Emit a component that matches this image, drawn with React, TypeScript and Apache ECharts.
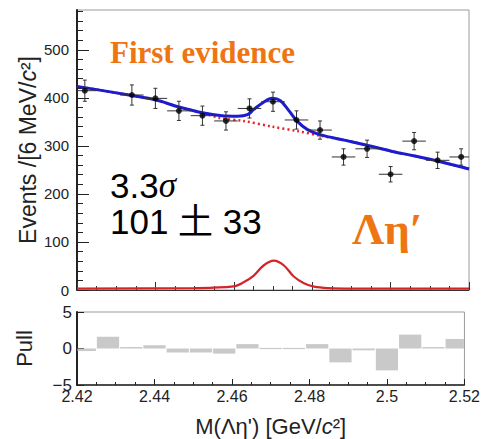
import React, { useEffect, useRef } from "react";
import * as echarts from "echarts";

// ---- data ----
const massCenters = [2.422, 2.434, 2.44, 2.446, 2.452, 2.458, 2.464, 2.47, 2.476, 2.482, 2.488, 2.494, 2.5, 2.506, 2.512, 2.518];
const events = [415, 406, 399, 373, 363, 352, 378, 392, 354, 333, 277, 294, 241, 310, 270, 277];
const eventErrors = [22, 21, 21, 20, 20, 19, 20, 20, 19, 19, 17, 18, 16, 18, 17, 17];

const pullCenters = [2.422, 2.428, 2.434, 2.44, 2.446, 2.452, 2.458, 2.464, 2.47, 2.476, 2.482, 2.488, 2.494, 2.5, 2.506, 2.512, 2.518];
const pullValues = [-0.35, 1.6, 0.2, 0.45, -0.55, -0.55, -0.7, 0.6, 0.05, 0.05, 0.6, -1.9, -0.25, -3.0, 1.9, 0.2, 1.3];

const fitX = [2.42, 2.434, 2.44, 2.446, 2.452, 2.457, 2.461, 2.4635, 2.4651, 2.4676, 2.4698, 2.4719, 2.4741, 2.4762, 2.4788, 2.4822, 2.4882, 2.4942, 2.5002, 2.5062, 2.5122, 2.52];
const fitY = [424, 405, 396, 381, 369, 363, 362, 365, 376, 391, 399, 394, 373, 351, 334, 323, 312, 301, 289, 279, 268, 252];

const bkgX = [2.42, 2.434, 2.44, 2.446, 2.452, 2.4565, 2.4625, 2.4698, 2.4762, 2.4822, 2.4882, 2.4942, 2.5002, 2.5062, 2.5122, 2.52];
const bkgY = [424, 405, 396, 381, 369, 358, 352, 340, 331, 321, 312, 301, 289, 279, 268, 252];

const sigX = [2.42, 2.45, 2.4599, 2.4625, 2.4651, 2.4676, 2.4702, 2.4728, 2.4753, 2.4779, 2.4805, 2.484, 2.49, 2.52];
const sigY = [3, 4, 7.5, 16, 30, 51, 61, 51, 28, 14, 7, 4, 3, 3];

const yMajorTicks = [0, 100, 200, 300, 400, 500];
const yMinorTicks = [0, 20, 40, 60, 80, 100, 120, 140, 160, 180, 200, 220, 240, 260, 280, 300, 320, 340, 360, 380, 400, 420, 440, 460, 480, 500, 520, 540, 560, 580];
const xTickLabels = [2.42, 2.44, 2.46, 2.48, 2.5, 2.52];
const pullTicks = [-5, 0, 5];

const BIN_HALF = 0.003;
const X_MIN = 2.42;
const X_MAX = 2.52;
const Y_MAX = 583;

const ORANGE = "#EE7512";
const SANS = '"Liberation Sans", Arial, Helvetica, sans-serif';
const SERIF = '"Liberation Serif", "Times New Roman", serif';

export default function App() {
  const ref = useRef<HTMLDivElement>(null);

  useEffect(() => {
    if (!ref.current) return;
    const chart = echarts.init(ref.current, undefined, { renderer: "svg" });

    const zip = (xs: number[], ys: number[]) => xs.map((x, i) => [x, ys[i]]);

    const option: any = {
      animation: false,
      backgroundColor: "#ffffff",
      grid: [
        { left: 77, top: 10, width: 392, height: 280, show: true, borderColor: "#9a9a9a", borderWidth: 1 },
        { left: 77, top: 312, width: 392, height: 73, show: true, borderColor: "#9a9a9a", borderWidth: 1 },
      ],
      xAxis: [
        {
          type: "value", gridIndex: 0, min: X_MIN, max: X_MAX, interval: 0.02,
          axisLine: { show: true, onZero: false, lineStyle: { color: "#333", width: 1 } },
          axisTick: { show: true, inside: true, length: 8, lineStyle: { color: "#333" } },
          minorTick: { show: true, splitNumber: 4, length: 4, lineStyle: { color: "#333" } },
          axisLabel: { show: false },
          splitLine: { show: false },
        },
        {
          type: "value", gridIndex: 1, min: X_MIN, max: X_MAX, interval: 0.02,
          axisLine: { show: true, onZero: false, lineStyle: { color: "#222", width: 1.5 } },
          axisTick: { show: true, inside: true, length: 6, lineStyle: { color: "#222" } },
          minorTick: { show: true, splitNumber: 4, length: 3, lineStyle: { color: "#222" } },
          axisLabel: { show: true, customValues: xTickLabels, fontSize: 16, color: "#222", fontFamily: SANS, margin: 3 },
          splitLine: { show: false },
          name: "{a|M(Λη') [GeV/}{i|c}{a|²]}",
          nameLocation: "middle",
          nameGap: 30,
          nameMoveOverlap: false,
          nameTextStyle: {
            rich: {
              a: { fontSize: 22, fontFamily: SANS, color: "#222" },
              i: { fontSize: 22, fontFamily: SANS, fontStyle: "italic", color: "#222" },
            },
          },
        },
      ],
      yAxis: [
        {
          type: "value", gridIndex: 0, min: 0, max: Y_MAX, position: "left",
          axisLine: { show: true, lineStyle: { color: "#222", width: 2 } },
          axisTick: { show: true, inside: true, length: 12, customValues: yMajorTicks, lineStyle: { color: "#222" } },
          axisLabel: { show: true, customValues: yMajorTicks, fontSize: 15, color: "#222", fontFamily: SANS, margin: 8 },
          splitLine: { show: false },
          name: "{a|Events /[6 MeV/}{i|c}{a|²]}",
          nameLocation: "middle",
          nameGap: 38,
          nameMoveOverlap: false,
          nameTextStyle: {
            rich: {
              a: { fontSize: 23, fontFamily: SANS, color: "#222" },
              i: { fontSize: 23, fontFamily: SANS, fontStyle: "italic", color: "#222" },
            },
          },
        },
        {
          type: "value", gridIndex: 0, min: 0, max: Y_MAX, position: "left",
          axisLine: { show: false },
          axisTick: { show: true, inside: true, length: 6, customValues: yMinorTicks, lineStyle: { color: "#222" } },
          axisLabel: { show: false },
          splitLine: { show: false },
        },
        {
          type: "value", gridIndex: 1, min: -5, max: 5, interval: 5, position: "left",
          axisLine: { show: true, onZero: false, lineStyle: { color: "#222", width: 2 } },
          axisTick: { show: true, inside: true, length: 7, customValues: pullTicks, lineStyle: { color: "#222" } },
          axisLabel: {
            show: true, customValues: pullTicks, fontSize: 17, color: "#222", fontFamily: SANS, margin: 5,
            formatter: (v: number) => String(v).replace("-", "−"),
          },
          splitLine: { show: false },
          name: "Pull",
          nameLocation: "middle",
          nameGap: 42,
          nameMoveOverlap: false,
          nameTextStyle: { fontSize: 22, fontFamily: SANS, color: "#222" },
        },
      ],
      series: [
        {
          type: "line", xAxisIndex: 0, yAxisIndex: 0, data: zip(bkgX, bkgY), smooth: 0.3,
          showSymbol: false, lineStyle: { color: "#e3262b", width: 2.5, type: [2, 3] }, z: 2,
        },
        {
          type: "line", xAxisIndex: 0, yAxisIndex: 0, data: zip(sigX, sigY), smooth: 0.35,
          showSymbol: false, lineStyle: { color: "#d42428", width: 2.2 }, z: 2,
        },
        {
          type: "line", xAxisIndex: 0, yAxisIndex: 0, data: zip(fitX, fitY), smooth: 0.35,
          showSymbol: false, lineStyle: { color: "#1b1bd0", width: 3 }, z: 3,
        },
        {
          type: "custom", xAxisIndex: 0, yAxisIndex: 0, z: 4,
          data: massCenters.map((x, i) => [x, events[i], eventErrors[i]]),
          encode: { x: 0, y: 1 },
          renderItem: (params: any, api: any) => {
            const x = api.value(0), y = api.value(1), e = api.value(2);
            const cs = params.coordSys;
            const clampX = (px: number) => Math.max(cs.x, Math.min(cs.x + cs.width, px));
            const c = api.coord([x, y]);
            const top = api.coord([x, y + e]);
            const bot = api.coord([x, y - e]);
            const l = clampX(api.coord([x - BIN_HALF, y])[0]);
            const r = clampX(api.coord([x + BIN_HALF, y])[0]);
            const style = { stroke: "#333", lineWidth: 1 };
            return {
              type: "group",
              children: [
                { type: "line", shape: { x1: c[0], y1: top[1], x2: c[0], y2: bot[1] }, style },
                { type: "line", shape: { x1: l, y1: c[1], x2: r, y2: c[1] }, style },
                { type: "line", shape: { x1: c[0] - 2, y1: top[1], x2: c[0] + 2, y2: top[1] }, style },
                { type: "line", shape: { x1: c[0] - 2, y1: bot[1], x2: c[0] + 2, y2: bot[1] }, style },
              ],
            };
          },
        },
        {
          type: "scatter", xAxisIndex: 0, yAxisIndex: 0, z: 5,
          data: zip(massCenters, events), symbol: "circle", symbolSize: 6,
          itemStyle: { color: "#000" },
        },
        {
          type: "custom", xAxisIndex: 1, yAxisIndex: 2, z: 2,
          data: pullCenters.map((x, i) => [x, pullValues[i]]),
          encode: { x: 0, y: 1 },
          renderItem: (params: any, api: any) => {
            const x = api.value(0), v = api.value(1);
            const cs = params.coordSys;
            const clampX = (px: number) => Math.max(cs.x, Math.min(cs.x + cs.width, px));
            const p0 = api.coord([x - BIN_HALF, 0]);
            const p1 = api.coord([x + BIN_HALF, v]);
            const x0 = clampX(p0[0]) + 0.5;
            const x1 = clampX(p1[0]) - 0.5;
            const h = Math.abs(p1[1] - p0[1]);
            const y0 = Math.min(p0[1], p1[1]);
            const hh = Math.max(h, 1.2);
            return {
              type: "rect",
              shape: { x: x0, y: h < 1.2 ? p0[1] - 0.6 : y0, width: x1 - x0, height: hh },
              style: { fill: "#c9c9c9" },
            };
          },
        },
      ],
      graphic: [
        {
          type: "text", x: 110, y: 52.5, z: 10,
          style: { text: "First evidence", font: `bold 31px ${SERIF}`, fill: ORANGE, verticalAlign: "middle" },
        },
        {
          type: "text", x: 110, y: 185, z: 10,
          style: {
            text: "{a|3.3}{s|σ}",
            verticalAlign: "middle",
            rich: {
              a: { fontSize: 35, fontFamily: SANS, fill: "#000" },
              s: { fontSize: 35, fontFamily: SERIF, fontStyle: "italic", fill: "#000" },
            },
          },
        },
        {
          type: "text", x: 110, y: 221, z: 10,
          style: {
            text: "101 土 33",
            font: `35px "Liberation Sans", Arial, "Noto Sans CJK SC", sans-serif`,
            fill: "#000",
            verticalAlign: "middle",
          },
        },
        {
          type: "text", x: 352, y: 229, z: 10,
          style: { text: "Λη′", font: `bold 45px ${SERIF}`, fill: ORANGE, verticalAlign: "middle" },
        },
      ],
    };

    chart.setOption(option);
    return () => chart.dispose();
  }, []);

  return (
    <div
      ref={ref}
      style={{ position: "fixed", left: 0, top: 0, width: 483, height: 439, background: "#fff" }}
    />
  );
}
